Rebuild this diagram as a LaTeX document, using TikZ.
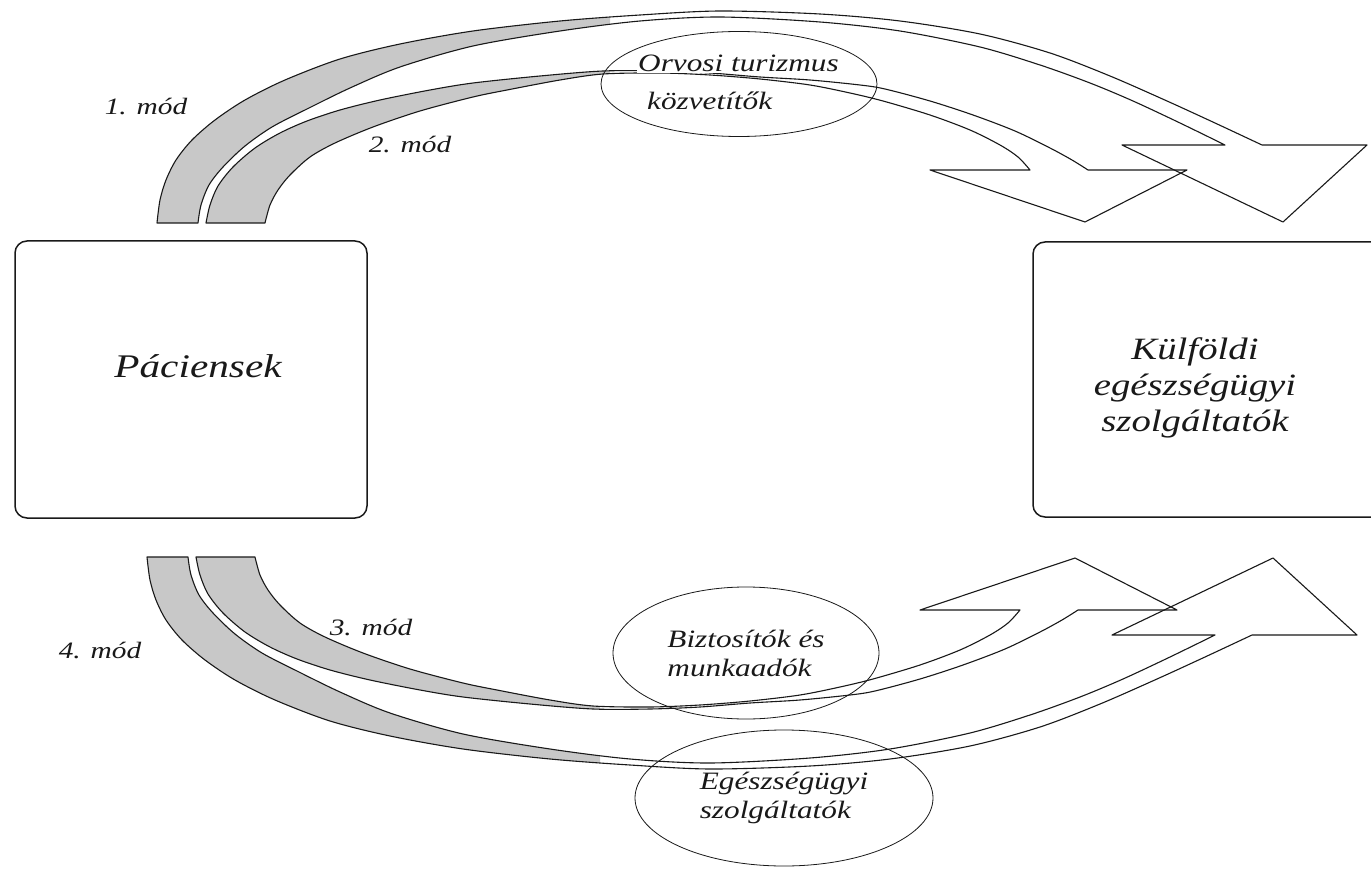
\documentclass[tikz,border=0pt]{standalone}
\usepackage{fontspec}
\setmainfont{Liberation Serif}[FakeStretch=1.25]
\usetikzlibrary{shapes.geometric}
\definecolor{bandgray}{RGB}{200,200,200}
\definecolor{ink}{RGB}{25,25,25}

\newcommand\bandOne[1]{%
  \path[#1] plot[smooth] coordinates {(157,223) (160,200) (166,180) (176,160) (192,140) (215,120) (245,100) (285,80) (340,59) (400,44) (473,31) (560,21) (640,15) (720,11) (820,14) (900,21) (980,34) (1050,53) (1110,76) (1167,101) (1215,123) (1262,145)}
  -- (1367,145) -- (1283,222) -- (1122,145) -- (1225,145)
  -- plot[smooth] coordinates {(1225,145) (1180,123) (1133,101) (1090,83) (1040,65) (980,47) (900,31) (820,22) (720,17) (640,21) (560,31) (473,46) (400,67) (350,88) (307,109) (272,127) (245,146) (223,167) (209,185) (201,205) (198,223)}
  -- cycle;}

\newcommand\bandTwo[1]{%
  \path[#1] plot[smooth] coordinates {(206,223) (210,205) (218,186) (233,167) (255,148) (280,133) (307,121) (340,110) (380,100) (430,90) (473,83) (540,76) (603,71) (660,71) (710,73) (760,77) (810,80) (860,85) (885,89) (930,101) (973,115) (1015,131) (1050,148) (1072,160) (1088,170)}
  -- (1187,170) -- (1085,222) -- (930,170) -- (1030,170)
  -- plot[smooth] coordinates {(1030,170) (1018,157) (1000,145) (970,130) (930,115) (883,101) (850,93) (810,85) (760,79) (710,75) (660,73) (603,74) (560,80) (507,90) (473,97) (420,111) (373,127) (335,143) (310,157) (290,175) (278,190) (270,205) (265,223)}
  -- cycle;}

\newcommand\bandPair{%
  \begin{scope}
    \clip (0,0) rectangle (610,869);
    \bandOne{fill=bandgray}
    \bandTwo{fill=bandgray}
  \end{scope}
  \bandOne{draw=ink,band}
  \bandTwo{draw=ink,band}}

\begin{document}
\begin{tikzpicture}[x=1pt,y=-1pt,
  box/.style={draw=ink,line width=1.5pt,rounded corners=12pt,inner sep=0pt},
  ell/.style={ellipse,draw=ink,line width=0.8pt,inner sep=0pt},
  band/.style={line width=1.1pt,line join=round},
  lbl/.style={font=\fontsize{23.5}{28}\selectfont\itshape,text=ink,inner sep=1pt},
  big/.style={font=\fontsize{33}{36}\selectfont\itshape,text=ink,inner sep=0pt},
  mid/.style={font=\fontsize{25}{29}\selectfont\itshape,text=ink}]

\useasboundingbox[fill=white] (0,0) rectangle (1371,869);

% boxes
\node[box,minimum width=352pt,minimum height=277pt] (pac) at (191,379.5) {};
\node[box,minimum width=352pt,minimum height=275pt] (kul) at (1209,379.5) {};

% top arrows (modes 1 and 2)
\bandPair
% bottom arrows (modes 3 and 4), mirror image
\begin{scope}[shift={(-10,780)},yscale=-1]
  \bandPair
\end{scope}

% ellipses
\node[ell,minimum width=276pt,minimum height=105pt] (orv) at (739,84) {};
\node[ell,mid,align=left,minimum width=266pt,minimum height=132pt] (biz) at (746,653) {Biztosítók és\\munkaadók};
\node[ell,mid,align=left,minimum width=298pt,minimum height=136pt] (egs) at (784,798) {Egészségügyi\\szolgáltatók};

% texts
\node[mid,fill=white,inner sep=1pt,anchor=base west] (orv1) at (637,72) {Orvosi turizmus};
\node[mid,fill=white,inner sep=1pt,anchor=base west] (orv2) at (646,110) {közvetítők};

\node[big,anchor=base] (pact) at (198,377) {Páciensek};
\node[big,font=\fontsize{31}{36}\selectfont\itshape,align=center] (kult) at (1195,388) {Külföldi\\egészségügyi\\szolgáltatók};

\node[lbl] (m1) at (146,107) {1. mód};
\node[lbl] (m2) at (410,145) {2. mód};
\node[lbl] (m3) at (371,627) {3. mód};
\node[lbl] (m4) at (100,650) {4. mód};
\end{tikzpicture}
\end{document}
